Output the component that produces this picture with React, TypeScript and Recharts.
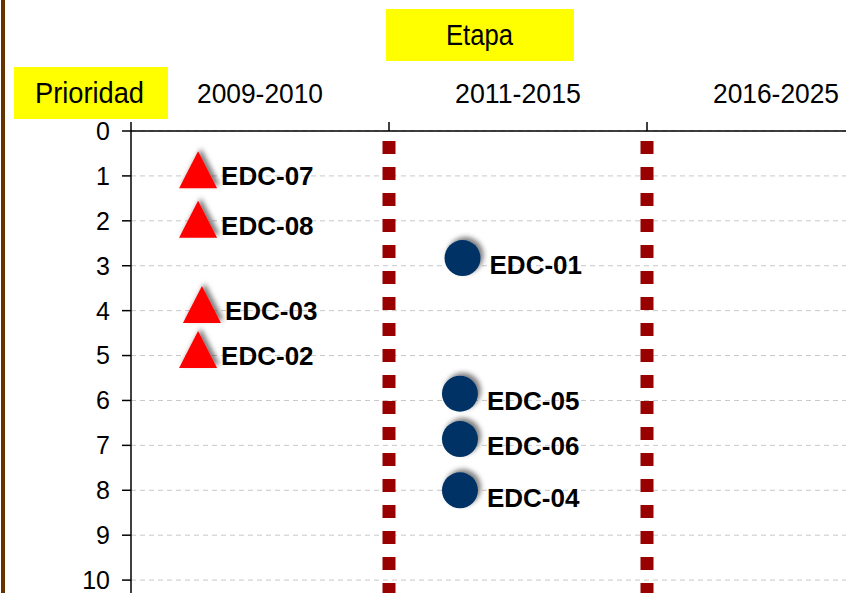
import {
  ScatterChart,
  Scatter,
  XAxis,
  YAxis,
  CartesianGrid,
  ReferenceLine,
} from 'recharts';

const etapas = ['2009-2010', '2011-2015', '2016-2025'];
const etapaTicks = [0, 0.5, 1, 1.5, 2, 2.5, 3];
const prioridadTicks = [0, 1, 2, 3, 4, 5, 6, 7, 8, 9, 10];

const earlyNames = ['EDC-07', 'EDC-08', 'EDC-03', 'EDC-02'];
const earlyX = [0.26, 0.26, 0.275, 0.26];
const earlyY = [1, 2.1, 4, 5];

const midNames = ['EDC-01', 'EDC-05', 'EDC-06', 'EDC-04'];
const midX = [1.285, 1.275, 1.275, 1.275];
const midY = [2.83, 5.85, 6.86, 8];

const earlyData = earlyNames.map((name, i) => ({ name, x: earlyX[i], y: earlyY[i] }));
const midData = midNames.map((name, i) => ({ name, x: midX[i], y: midY[i] }));

const FONT = '"Liberation Sans", Arial, sans-serif';
const AXIS_Y = 131;

function EtapaTick(props: any) {
  const { x, payload } = props;
  const v = payload.value;
  if (Number.isInteger(v)) {
    return <line x1={x} x2={x} y1={AXIS_Y - 9} y2={AXIS_Y} stroke="#000" strokeWidth={1.5} />;
  }
  return (
    <text
      x={x}
      y={103}
      textAnchor="middle"
      fontSize={28}
      fontFamily={FONT}
      fill="#000"
      textLength={126}
      lengthAdjust="spacingAndGlyphs"
    >
      {etapas[Math.floor(v)]}
    </text>
  );
}

function Triangle(props: any) {
  const { cx, cy, payload } = props;
  const w = 38;
  const h = 37;
  const pts = `${cx},${cy - (2 * h) / 3} ${cx + w / 2},${cy + h / 3} ${cx - w / 2},${cy + h / 3}`;
  return (
    <g>
      <polygon points={pts} fill="#ff0000" filter="url(#softShadow)" />
      <text
        x={cx + 23}
        y={cy}
        dy="0.36em"
        fontSize={26}
        fontWeight="bold"
        fontFamily={FONT}
        fill="#000"
      >
        {payload.name}
      </text>
    </g>
  );
}

function Dot(props: any) {
  const { cx, cy, payload } = props;
  return (
    <g>
      <circle cx={cx} cy={cy} r={18} fill="#003366" filter="url(#softShadow)" />
      <text
        x={cx + 27}
        y={cy + 7}
        dy="0.36em"
        fontSize={26}
        fontWeight="bold"
        fontFamily={FONT}
        fill="#000"
      >
        {payload.name}
      </text>
    </g>
  );
}

export default function App() {
  return (
    <div
      style={{
        position: 'absolute',
        left: 0,
        top: 0,
        width: 846,
        height: 593,
        overflow: 'hidden',
        background: '#fff',
      }}
    >
      <svg width={0} height={0} style={{ position: 'absolute' }}>
        <defs>
          <filter id="softShadow" x="-50%" y="-50%" width="200%" height="200%">
            <feDropShadow dx={3} dy={-3} stdDeviation={2.5} floodColor="#000" floodOpacity={0.5} />
          </filter>
        </defs>
      </svg>
      <ScatterChart
        width={910}
        height={640}
        margin={{ top: 0, right: 5, left: 0, bottom: 15 }}
      >
        <CartesianGrid vertical={false} stroke="#c8c8c8" strokeDasharray="5 4" />
        <XAxis
          type="number"
          dataKey="x"
          orientation="top"
          domain={[0, 3]}
          ticks={etapaTicks}
          height={AXIS_Y}
          tickLine={false}
          tick={<EtapaTick />}
          axisLine={{ stroke: '#000', strokeWidth: 1.5 }}
          interval={0}
        />
        <YAxis
          type="number"
          dataKey="y"
          domain={[0, 11]}
          reversed
          ticks={prioridadTicks}
          width={131}
          tickSize={9}
          tickMargin={12}
          interval={0}
          axisLine={{ stroke: '#000', strokeWidth: 1.5 }}
          tickLine={{ stroke: '#000', strokeWidth: 1.5 }}
          tick={{ fontSize: 25, fontFamily: FONT, fill: '#000' }}
        />
        <ReferenceLine
          x={1}
          stroke="#990000"
          strokeWidth={13}
          strokeDasharray="13 13"
          strokeDashoffset={16}
        />
        <ReferenceLine
          x={2}
          stroke="#990000"
          strokeWidth={13}
          strokeDasharray="13 13"
          strokeDashoffset={16}
        />
        <Scatter data={earlyData} shape={<Triangle />} isAnimationActive={false} />
        <Scatter data={midData} shape={<Dot />} isAnimationActive={false} />
      </ScatterChart>
      <svg
        width={846}
        height={593}
        style={{ position: 'absolute', left: 0, top: 0, pointerEvents: 'none' }}
      >
        <rect x={1} y={0} width={4} height={593} fill="#663300" />
        <rect x={14} y={67} width={154} height={52} fill="#ffff00" />
        <text
          x={35}
          y={103}
          fontSize={30}
          fontFamily={FONT}
          textLength={109}
          lengthAdjust="spacingAndGlyphs"
          fill="#000"
        >
          Prioridad
        </text>
        <rect x={386} y={9} width={188} height={52} fill="#ffff00" />
        <text
          x={446}
          y={45}
          fontSize={30}
          fontFamily={FONT}
          textLength={67}
          lengthAdjust="spacingAndGlyphs"
          fill="#000"
        >
          Etapa
        </text>
      </svg>
    </div>
  );
}
